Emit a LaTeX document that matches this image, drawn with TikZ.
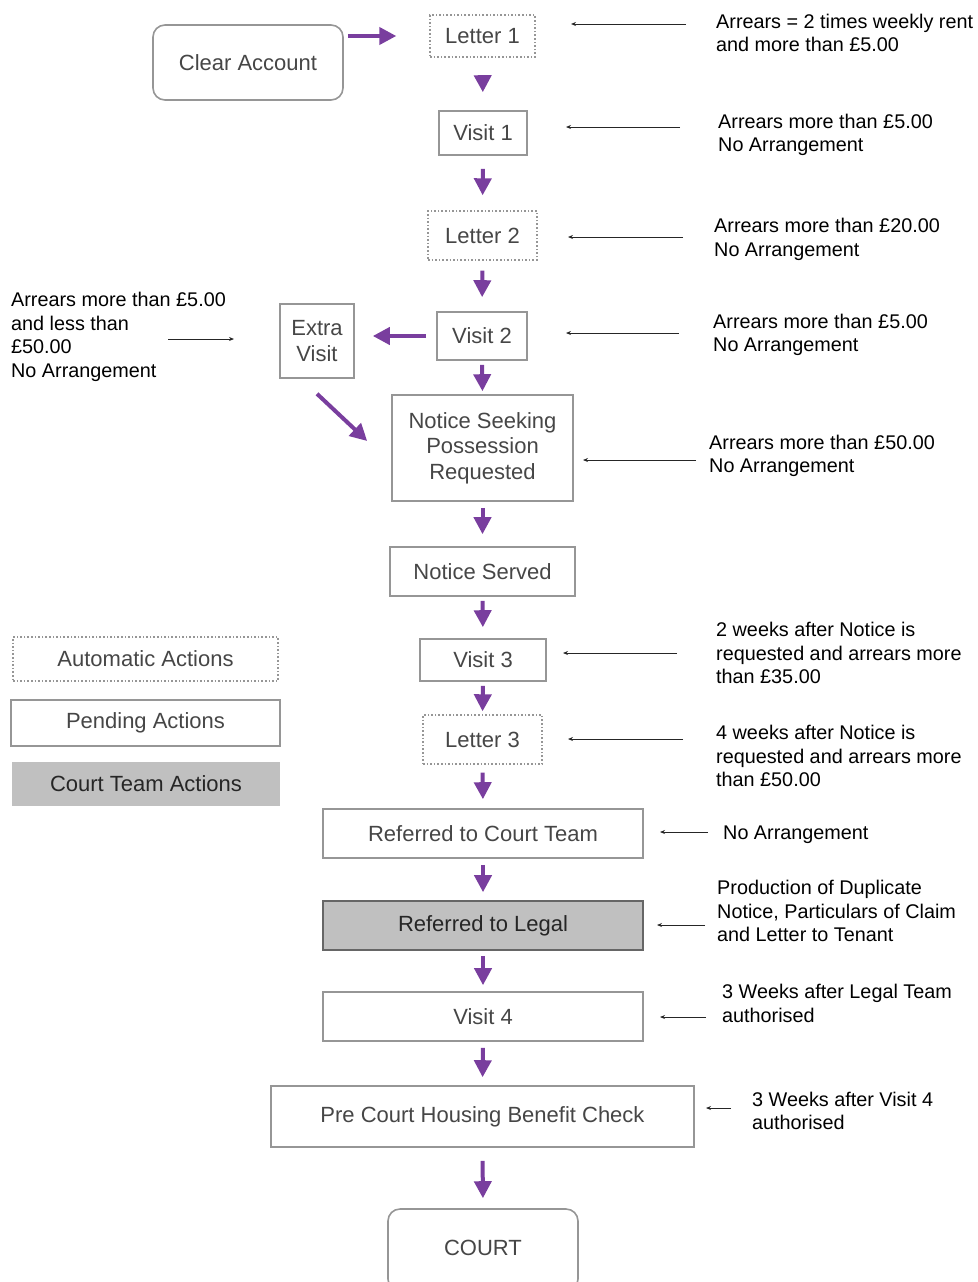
\documentclass[tikz,border=0pt]{standalone}
\usepackage{fontspec}
\setmainfont{Liberation Sans}
\usetikzlibrary{arrows.meta}
\definecolor{purp}{RGB}{121,62,158}
\definecolor{bord}{RGB}{150,150,150}
\definecolor{ntext}{RGB}{70,70,70}
\definecolor{courtfill}{RGB}{192,192,192}
\tikzset{
  box/.style={draw=bord, line width=1.6pt, text=ntext, inner sep=0pt, align=center,
    font=\fontsize{22}{25.5}\selectfont},
  pend/.style={box},
  auto/.style={box, dotted, line width=1.4pt},
  court/.style={box, fill=courtfill, draw=black!60, text=black!85},
  rbox/.style={box, rounded corners=12pt},
  ann/.style={anchor=west, inner sep=0pt, align=left, text=black,
    font=\fontsize{19.8}{23.5}\selectfont},
  parrow/.style={draw=purp, line width=4pt, -{Triangle[length=17pt,width=17pt]}},
  tarrow/.style={draw=black!85, line width=1pt, -{Stealth[length=5pt,width=4pt]}},
}
\begin{document}
\begin{tikzpicture}[x=1pt,y=-1pt]
\useasboundingbox (0,0) rectangle (977,1282);
% main nodes
\node[rbox, minimum width=190, minimum height=75] (ca) at (248,62.5) {Clear Account};
\node[auto, minimum width=105, minimum height=42] (l1) at (482.5,36) {Letter 1};
\node[pend, minimum width=88, minimum height=44] (v1) at (483,133) {Visit 1};
\node[auto, minimum width=109, minimum height=49] (l2) at (482.5,235.5) {Letter 2};
\node[pend, minimum width=90, minimum height=48] (v2) at (482,336) {Visit 2};
\node[pend, minimum width=74, minimum height=74] (ev) at (317,341) {Extra\\Visit};
\node[pend, minimum width=181, minimum height=106] (nsp) at (482.5,448) {Notice Seeking\\Possession\\Requested};
\node[pend, minimum width=185, minimum height=49] (ns) at (482.5,571.5) {Notice Served};
\node[pend, minimum width=126, minimum height=42] (v3) at (483,660) {Visit 3};
\node[auto, minimum width=119, minimum height=49] (l3) at (482.5,739.5) {Letter 3};
\node[pend, minimum width=320, minimum height=49] (rct) at (483,833.5) {Referred to Court Team};
\node[court, minimum width=320, minimum height=49] (rl) at (483,925.5) {Referred to Legal};
\node[pend, minimum width=320, minimum height=49] (v4) at (483,1016.5) {Visit 4};
\node[pend, minimum width=423, minimum height=61] (pc) at (482.5,1116.5) {Pre Court Housing Benefit Check};
\node[rbox, minimum width=190, minimum height=82] (ct) at (483,1250) {};
\node[text=ntext, font=\fontsize{22}{25.5}\selectfont] (ctl) at (483,1248) {COURT};
% legend
\node[auto, minimum width=265, minimum height=44] (lga) at (145.5,659) {Automatic Actions};
\node[pend, minimum width=269, minimum height=46] (lgp) at (145.5,723) {Pending Actions};
\node[court, draw=none, minimum width=268, minimum height=44] (lgc) at (146,784) {Court Team Actions};
% purple arrows
\draw[parrow, shorten <=4pt, shorten >=33pt] (ca.east |- l1.west) -- (l1.west);
\draw[parrow, shorten <=18pt, shorten >=18pt] (l1.south) -- (v1.north);
\draw[parrow, shorten <=13pt, shorten >=15pt] (v1.south) -- (l2.north);
\draw[parrow, shorten <=10pt, shorten >=14pt] (l2.south) -- (v2.north);
\draw[parrow, shorten <=4pt, shorten >=3pt] (v2.south) -- (nsp.north);
\draw[parrow, shorten <=10pt, shorten >=18pt] (v2.west) -- (ev.east |- v2.west);
\draw[parrow] ([yshift=-15pt]ev.south) -- ([xshift=-24pt,yshift=7pt]nsp.west);
\draw[parrow, shorten <=6pt, shorten >=12pt] (nsp.south) -- (ns.north);
\draw[parrow, shorten <=4pt, shorten >=11pt] (ns.south) -- (v3.north);
\draw[parrow, shorten <=4pt, shorten >=3pt] (v3.south) -- (l3.north);
\draw[parrow, shorten <=8pt, shorten >=9pt] (l3.south) -- (rct.north);
\draw[parrow, shorten <=6pt, shorten >=8pt] (rct.south) -- (rl.north);
\draw[parrow, shorten <=5pt, shorten >=6pt] (rl.south) -- (v4.north);
\draw[parrow, shorten <=6pt, shorten >=8pt] (v4.south) -- (pc.north);
\draw[parrow, shorten <=13pt, shorten >=10pt] (pc.south) -- (ct.north);
% annotations
\node[ann] (a1) at (716,33) {Arrears = 2 times weekly rent\\and more than £5.00};
\node[ann] (a2) at (718,135) {Arrears more than £5.00\\No Arrangement};
\node[ann] (a3) at (714,239.5) {Arrears more than £20.00\\No Arrangement};
\node[ann] (a4) at (713,335) {Arrears more than £5.00\\No Arrangement};
\node[ann] (a5) at (709,456) {Arrears more than £50.00\\No Arrangement};
\node[ann] (a6) at (716,653) {2 weeks after Notice is\\requested and arrears more\\than £35.00};
\node[ann] (a7) at (716,756) {4 weeks after Notice is\\requested and arrears more\\than £50.00};
\node[ann] (a8) at (723,835) {No Arrangement};
\node[ann] (a9) at (717,911) {Production of Duplicate\\Notice, Particulars of Claim\\and Letter to Tenant};
\node[ann] (a10) at (722,1003.5) {3 Weeks after Legal Team\\authorised};
\node[ann] (a11) at (752,1111) {3 Weeks after Visit 4\\authorised};
\node[ann] (a12) at (11,337) {Arrears more than £5.00\\and less than\\£50.00\\No Arrangement};
% thin arrows
\draw[tarrow] ([xshift=-30pt,yshift=9pt]a1.west) -- ++(-115,0);
\draw[tarrow] ([xshift=-38pt,yshift=8pt]a2.west) -- ++(-114,0);
\draw[tarrow] ([xshift=-31pt,yshift=2.5pt]a3.west) -- ++(-115,0);
\draw[tarrow] ([xshift=-34pt,yshift=2pt]a4.west) -- ++(-113,0);
\draw[tarrow] ([xshift=-13pt,yshift=-4pt]a5.west) -- ++(-113,0);
\draw[tarrow] ([xshift=-39pt]a6.west) -- ++(-114,0);
\draw[tarrow] ([xshift=-33pt,yshift=17pt]a7.west) -- ++(-115,0);
\draw[tarrow] ([xshift=-15pt,yshift=3pt]a8.west) -- ++(-48,0);
\draw[tarrow] ([xshift=-12pt,yshift=-14pt]a9.west) -- ++(-48,0);
\draw[tarrow] ([xshift=-16pt,yshift=-13.5pt]a10.west) -- ++(-46,0);
\draw[tarrow] ([xshift=-21pt,yshift=3pt]a11.west) -- ++(-25,0);
\draw[tarrow] ([xshift=157pt,yshift=-2pt]a12.west) -- ++(66,0);
\end{tikzpicture}
\end{document}
